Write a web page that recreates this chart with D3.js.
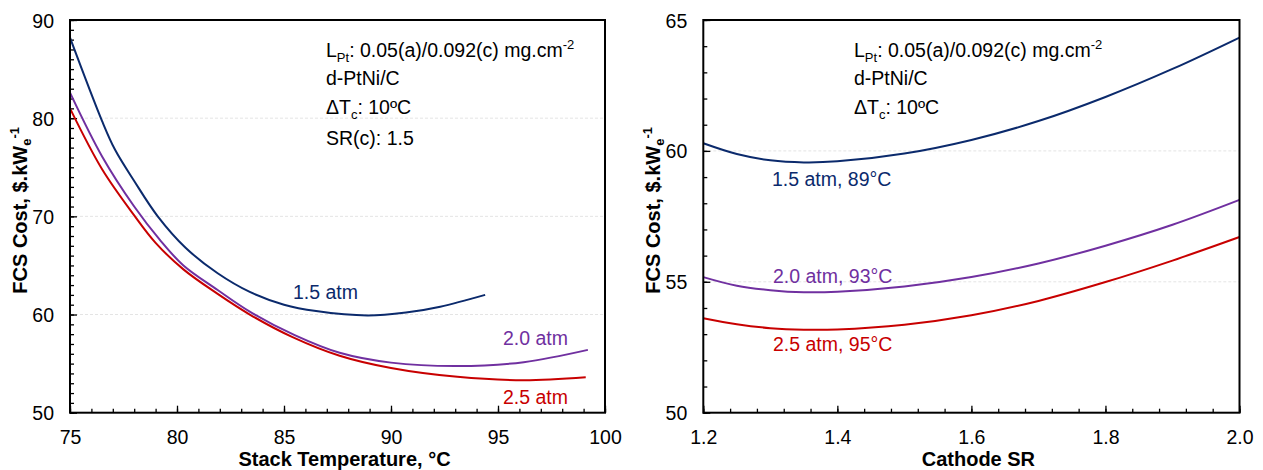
<!DOCTYPE html>
<html>
<head>
<meta charset="utf-8">
<script src="https://cdn.jsdelivr.net/npm/d3@7"></script>
<style>
  body { margin: 0; background: #fff; }
  svg { font-family: "Liberation Sans", Arial, sans-serif; }
</style>
</head>
<body>
<svg id="chart" width="1263" height="470"></svg>
<script>
// ---- Panel (a): FCS cost vs stack temperature ----
const tempTicks = [75, 80, 85, 90, 95, 100];
const costTicksA = [50, 60, 70, 80, 90];

const temp15 = [75, 76.5, 77.1, 78, 79.1, 80.4, 81.9, 83.4, 85, 86.5, 88.9, 90.7, 92.3, 94.4];
const cost15 = [88.2, 79.7, 76.8, 73.6, 70.0, 66.8, 64.2, 62.3, 61.0, 60.35, 59.9, 60.2, 60.8, 62.0];

const temp20 = [75, 76.5, 78, 79.2, 80.3, 81.9, 83.4, 85.5, 87.6, 90, 93.1, 96.2, 99.2];
const cost20 = [82.6, 76.1, 71.0, 67.6, 65.0, 62.5, 60.3, 57.9, 56.1, 55.1, 54.75, 55.15, 56.4];

const temp25 = [75, 76.5, 78, 79, 80.3, 81.9, 83.4, 85.4, 87.6, 90, 93.1, 96.2, 99.1];
const cost25 = [81.0, 74.8, 70.1, 67.3, 64.6, 62.1, 60.0, 57.7, 55.8, 54.55, 53.65, 53.3, 53.6];

// ---- Panel (b): FCS cost vs cathode stoichiometric ratio ----
const srTicks = [1.2, 1.4, 1.6, 1.8, 2.0];
const costTicksB = [50, 55, 60, 65];

const srValues = [1.2, 1.25, 1.3, 1.35, 1.4, 1.5, 1.6, 1.7, 1.8, 1.9, 2.0];
const srCost15 = [60.29, 59.88, 59.64, 59.56, 59.6, 59.9, 60.42, 61.14, 62.06, 63.13, 64.33];
const srCost20 = [55.18, 54.85, 54.68, 54.6, 54.62, 54.82, 55.18, 55.7, 56.38, 57.18, 58.13];
const srCost25 = [53.61, 53.38, 53.23, 53.17, 53.18, 53.36, 53.72, 54.27, 54.99, 55.81, 56.71];

const seriesLabelsA = ["1.5 atm", "2.0 atm", "2.5 atm"];
const seriesLabelsB = ["1.5 atm, 89°C", "2.0 atm, 93°C", "2.5 atm, 95°C"];

const colors = ["#0b2a6c", "#7030a0", "#c80000"];

const svg = d3.select("#chart");

function drawPanel(cfg) {
  const x = d3.scaleLinear().domain(cfg.xDomain).range([cfg.left, cfg.right]);
  const y = d3.scaleLinear().domain(cfg.yDomain).range([cfg.bottom, cfg.top]);
  const g = svg.append("g");

  // faint gridlines at inner major ticks
  g.append("g").selectAll("line")
    .data(cfg.yTicks.filter(v => v > cfg.yDomain[0] && v < cfg.yDomain[1]))
    .join("line")
    .attr("x1", cfg.left).attr("x2", cfg.right)
    .attr("y1", d => y(d)).attr("y2", d => y(d))
    .attr("stroke", "#e4e4e4").attr("stroke-width", 1)
    .attr("stroke-dasharray", "3,2");

  // minor ticks
  const minorX = g.append("g").attr("transform", `translate(0,${cfg.bottom})`)
    .call(d3.axisBottom(x).tickValues(cfg.xMinor).tickSize(-4).tickFormat(""));
  const minorY = g.append("g").attr("transform", `translate(${cfg.left},0)`)
    .call(d3.axisLeft(y).tickValues(cfg.yMinor).tickSize(-4).tickFormat(""));

  // major ticks with labels
  const ax = g.append("g").attr("transform", `translate(0,${cfg.bottom})`)
    .call(d3.axisBottom(x).tickValues(cfg.xTicks).tickSize(-7).tickPadding(17).tickFormat(cfg.xFormat));
  const ay = g.append("g").attr("transform", `translate(${cfg.left},0)`)
    .call(d3.axisLeft(y).tickValues(cfg.yTicks).tickSize(-7).tickPadding(16).tickFormat(d3.format("d")));

  [minorX, minorY, ax, ay].forEach(a => {
    a.select(".domain").remove();
    a.selectAll(".tick line").attr("stroke", "#000").attr("stroke-width", 1.3);
  });
  [ax, ay].forEach(a => a.selectAll("text")
    .attr("fill", "#000").attr("font-size", "19.5px")
    .attr("font-family", "Liberation Sans, Arial, sans-serif"));
  ay.selectAll("text").attr("dy", "0.36em");

  // series
  const line = d3.line().x(d => x(d[0])).y(d => y(d[1])).curve(d3.curveCatmullRom.alpha(0.5));
  cfg.series.forEach((s, i) => {
    g.append("path")
      .datum(d3.zip(s.x, s.y))
      .attr("fill", "none").attr("stroke", colors[i]).attr("stroke-width", 2)
      .attr("d", line);
  });

  // series labels
  cfg.labels.forEach((lb, i) => {
    g.append("text")
      .attr("x", lb.x).attr("y", lb.y)
      .attr("fill", colors[i]).attr("font-size", "19.5px")
      .text(lb.text);
  });

  // frame
  g.append("rect")
    .attr("x", cfg.left).attr("y", cfg.top)
    .attr("width", cfg.right - cfg.left).attr("height", cfg.bottom - cfg.top)
    .attr("fill", "none").attr("stroke", "#000").attr("stroke-width", 2);

  // axis titles
  g.append("text")
    .attr("x", (cfg.left + cfg.right) / 2 + 7).attr("y", 466)
    .attr("text-anchor", "middle").attr("font-weight", "bold").attr("font-size", "20px")
    .text(cfg.xTitle);

  const yt = g.append("text")
    .attr("transform", `translate(${cfg.left - 43},${(cfg.top + cfg.bottom) / 2 - 6}) rotate(-90)`)
    .attr("text-anchor", "middle").attr("font-weight", "bold").attr("font-size", "20px");
  yt.append("tspan").text("FCS Cost, $.kW");
  yt.append("tspan").attr("font-size", "13px").attr("dy", "4").text("e");
  yt.append("tspan").attr("font-size", "13px").attr("dy", "-12").text("-1");

  // condition notes
  const noteX = cfg.noteX;
  const fs = "19.5px", fsSmall = "13px";
  const n1 = g.append("text").attr("x", noteX).attr("y", 57).attr("font-size", fs);
  n1.append("tspan").text("L");
  n1.append("tspan").attr("font-size", fsSmall).attr("dy", "5").text("Pt");
  n1.append("tspan").attr("dy", "-5").text(": 0.05(a)/0.092(c) mg.cm");
  n1.append("tspan").attr("font-size", fsSmall).attr("dy", "-8").text("-2");

  g.append("text").attr("x", noteX).attr("y", 85).attr("font-size", fs).text("d-PtNi/C");

  const n3 = g.append("text").attr("x", noteX).attr("y", 114).attr("font-size", fs);
  n3.append("tspan").text("ΔT");
  n3.append("tspan").attr("font-size", fsSmall).attr("dy", "5").text("c");
  n3.append("tspan").attr("dy", "-5").text(": 10ºC");

  if (cfg.extraNote) {
    g.append("text").attr("x", noteX).attr("y", 145).attr("font-size", fs).text(cfg.extraNote);
  }
}

drawPanel({
  left: 70, right: 605, top: 20, bottom: 412.7,
  xDomain: [75, 100], yDomain: [50, 90],
  xTicks: tempTicks, yTicks: costTicksA,
  xMinor: d3.range(75, 100.001, 1), yMinor: d3.range(50, 90.001, 1),
  xFormat: d3.format("d"),
  series: [
    { x: temp15, y: cost15 },
    { x: temp20, y: cost20 },
    { x: temp25, y: cost25 }
  ],
  labels: [
    { text: seriesLabelsA[0], x: 293, y: 299 },
    { text: seriesLabelsA[1], x: 503, y: 345 },
    { text: seriesLabelsA[2], x: 503, y: 404 }
  ],
  xTitle: "Stack Temperature, °C",
  noteX: 326,
  extraNote: "SR(c): 1.5"
});

drawPanel({
  left: 703.3, right: 1239.5, top: 20, bottom: 412.7,
  xDomain: [1.2, 2.0], yDomain: [50, 65],
  xTicks: srTicks, yTicks: costTicksB,
  xMinor: d3.range(0, 21).map(i => 1.2 + i * 0.04), yMinor: d3.range(50, 65.001, 1),
  xFormat: d3.format(".1f"),
  series: [
    { x: srValues, y: srCost15 },
    { x: srValues, y: srCost20 },
    { x: srValues, y: srCost25 }
  ],
  labels: [
    { text: seriesLabelsB[0], x: 772, y: 186 },
    { text: seriesLabelsB[1], x: 773, y: 283 },
    { text: seriesLabelsB[2], x: 773, y: 351 }
  ],
  xTitle: "Cathode SR",
  noteX: 854,
  extraNote: null
});
</script>
</body>
</html>
